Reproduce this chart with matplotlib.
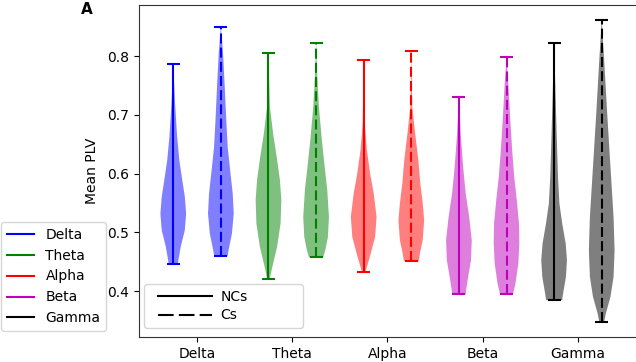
import matplotlib
matplotlib.use("Agg")
import matplotlib.pyplot as plt
from matplotlib.lines import Line2D
from matplotlib.legend_handler import HandlerLine2D

plt.rcParams['font.family'] = ['DejaVu Sans']
plt.rcParams['font.size'] = 10

bands = ["Delta", "Theta", "Alpha", "Beta", "Gamma"]
colors = ["b", "g", "r", "m", "k"]
groups = ["NCs", "Cs"]

# Violin outlines: PLV levels (top to bottom) and relative half-widths
delta_nc_y = [0.786, 0.7195, 0.663, 0.623, 0.589, 0.5605, 0.532, 0.504, 0.4754, 0.453, 0.4455]
delta_nc_w = [0.0, 0.14, 0.30, 0.47, 0.70, 0.90, 1.00, 0.90, 0.58, 0.40, 0.35]
delta_cs_y = [0.850, 0.8046, 0.7478, 0.691, 0.6456, 0.606, 0.5663, 0.532, 0.498, 0.470, 0.460]
delta_cs_w = [0.0, 0.17, 0.30, 0.42, 0.53, 0.72, 0.92, 1.00, 0.86, 0.60, 0.53]

theta_nc_y = [0.8056, 0.7137, 0.6684, 0.6286, 0.589, 0.555, 0.5152, 0.4754, 0.4414, 0.421]
theta_nc_w = [0.0, 0.11, 0.36, 0.64, 0.89, 1.00, 0.94, 0.67, 0.30, 0.10]
theta_cs_y = [0.8227, 0.7705, 0.7137, 0.657, 0.6116, 0.572, 0.5265, 0.4924, 0.470, 0.4574]
theta_cs_w = [0.0, 0.08, 0.22, 0.45, 0.67, 0.87, 1.00, 0.92, 0.72, 0.55]

alpha_nc_y = [0.7932, 0.6854, 0.640, 0.6003, 0.5663, 0.5265, 0.4924, 0.4642, 0.4414, 0.4329]
alpha_nc_w = [0.0, 0.08, 0.25, 0.50, 0.78, 1.00, 0.89, 0.55, 0.25, 0.14]
alpha_cs_y = [0.808, 0.7137, 0.6684, 0.623, 0.5833, 0.5493, 0.5209, 0.4868, 0.4642, 0.4516]
alpha_cs_w = [0.0, 0.08, 0.30, 0.55, 0.70, 0.89, 1.00, 0.89, 0.67, 0.58]

beta_nc_y = [0.7308, 0.6684, 0.6116, 0.5663, 0.5265, 0.4868, 0.4528, 0.4244, 0.4017, 0.3944]
beta_nc_w = [0.0, 0.14, 0.33, 0.53, 0.80, 1.00, 0.94, 0.72, 0.56, 0.53]
beta_cs_y = [0.7989, 0.7535, 0.6967, 0.640, 0.5946, 0.555, 0.5152, 0.4811, 0.4471, 0.4131, 0.3944]
beta_cs_w = [0.0, 0.14, 0.28, 0.44, 0.60, 0.80, 0.97, 1.00, 0.92, 0.70, 0.50]

gamma_nc_y = [0.8216, 0.7365, 0.6514, 0.5946, 0.5493, 0.5152, 0.4811, 0.4528, 0.4244, 0.396, 0.3847]
gamma_nc_w = [0.0, 0.11, 0.22, 0.30, 0.41, 0.63, 0.90, 1.00, 0.92, 0.70, 0.62]
gamma_cs_y = [0.8613, 0.7932, 0.7081, 0.640, 0.5833, 0.5265, 0.4698, 0.4244, 0.3903, 0.362, 0.3478]
gamma_cs_w = [0.0, 0.19, 0.41, 0.60, 0.76, 0.92, 1.00, 0.92, 0.68, 0.32, 0.19]

nc_profiles = [(delta_nc_y, delta_nc_w), (theta_nc_y, theta_nc_w), (alpha_nc_y, alpha_nc_w),
               (beta_nc_y, beta_nc_w), (gamma_nc_y, gamma_nc_w)]
cs_profiles = [(delta_cs_y, delta_cs_w), (theta_cs_y, theta_cs_w), (alpha_cs_y, alpha_cs_w),
               (beta_cs_y, beta_cs_w), (gamma_cs_y, gamma_cs_w)]


def make_stats(ys, ws):
    return dict(coords=ys, vals=ws, mean=sum(ys) / len(ys), median=ys[len(ys) // 2],
                min=min(ys), max=max(ys), quantiles=[])


fig = plt.figure(figsize=(6.36, 3.62), dpi=100)
ax = fig.add_axes([139 / 636, 1 - 337 / 362, 1 - 139 / 636, (337 - 5) / 362])

offset = 0.25
width = 0.27
dash_cs = (0, (4.8, 2.0))
for i, (band, col) in enumerate(zip(bands, colors)):
    center = i + 1
    for prof, dx, ls in ((nc_profiles[i], -offset, '-'), (cs_profiles[i], offset, dash_cs)):
        res = ax.violin([make_stats(*prof)], positions=[center + dx], widths=[width],
                        showmeans=False, showextrema=True, showmedians=False)
        for body in res['bodies']:
            body.set_facecolor(col)
            body.set_edgecolor('none')
            body.set_alpha(0.5)
        for key in ('cmins', 'cmaxes'):
            res[key].set_color(col)
            res[key].set_linewidth(1.5)
        res['cbars'].set_color(col)
        res['cbars'].set_linewidth(1.5)
        res['cbars'].set_linestyle(ls)

ax.set_xticks(range(1, len(bands) + 1))
ax.set_xticklabels(bands)
ax.set_xlim(0.39, 5.61)
ax.set_ylim(0.322, 0.887)
ax.set_yticks([0.4, 0.5, 0.6, 0.7, 0.8])
ax.set_ylabel("Mean PLV", labelpad=6)
ax.spines['right'].set_visible(False)
for s in ('left', 'top', 'bottom'):
    ax.spines[s].set_color('#333333')

style_handles = [Line2D([0], [0], color='k', lw=1.5, ls='-'),
                 Line2D([0], [0], color='k', lw=1.5, ls=(0, (7.5, 2.5)))]
ax.legend(style_handles, groups, loc='lower left', handlelength=4.5, handletextpad=0.6,
          labelspacing=0.35, fontsize=10,
          handler_map={Line2D: HandlerLine2D(xpad=0.6)},
          bbox_to_anchor=(5 / 497, 9 / 332, 159 / 497, 0.1), mode='expand', borderaxespad=0)

band_handles = [Line2D([0], [0], color=c, lw=1.5) for c in colors]
fig.legend(band_handles, bands, loc='upper left', bbox_to_anchor=(1 / 636, 1 - 222 / 362),
           borderaxespad=0, fontsize=10)

fig.text(86.5 / 636, 1 - 9.7 / 362, "A", fontsize=11, fontweight='bold', ha='center', va='center')

fig.savefig("out.png", dpi=100)
